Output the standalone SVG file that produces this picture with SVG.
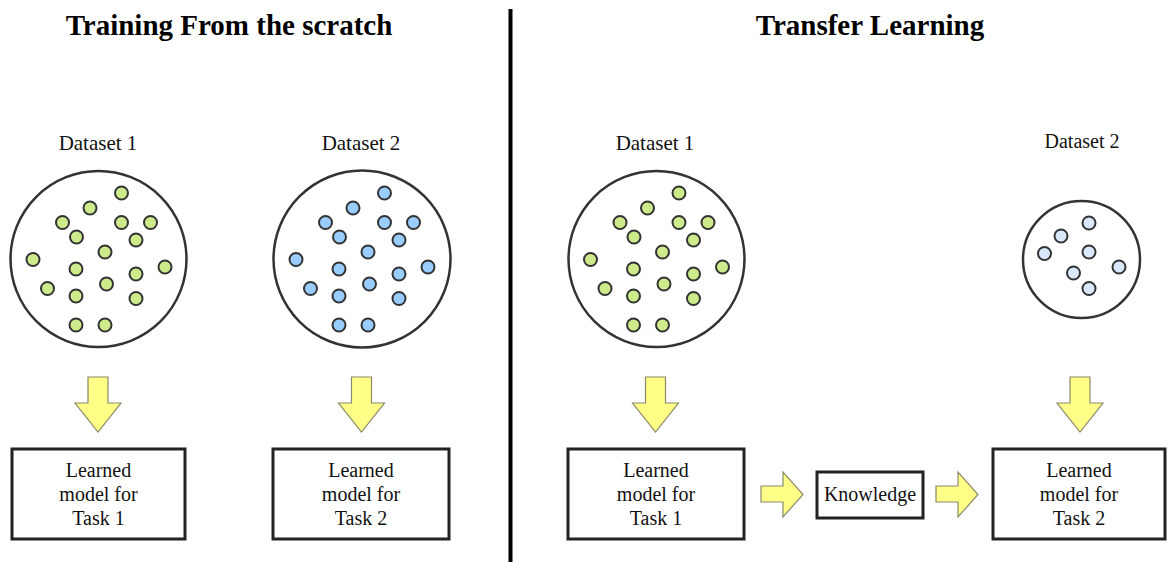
<svg xmlns="http://www.w3.org/2000/svg" xmlns:xlink="http://www.w3.org/1999/xlink" width="1167" height="562" viewBox="0 0 1167 562">
<style>
.title{font-family:"Liberation Serif","Times New Roman",Times,serif;font-weight:bold;font-size:29px;fill:#000;text-anchor:middle}
.lbl{font-family:"Liberation Serif","Times New Roman",Times,"DejaVu Serif",serif;font-weight:normal;font-size:20px;fill:#111;text-anchor:middle}
.ds{font-size:21px}
.big{fill:#fff;stroke:#333;stroke-width:2.5}
.dot{stroke:#333;stroke-width:2}
.box{fill:#fff;stroke:#222;stroke-width:3}
.arrow{fill:#ffff88;stroke:#8a8a6a;stroke-width:1.2;stroke-linejoin:miter}
</style>
<defs>
<g id="dots">
<circle class="dot" cx="121.5" cy="193" r="6.5"/>
<circle class="dot" cx="90" cy="208" r="6.5"/>
<circle class="dot" cx="62.5" cy="222.5" r="6.5"/>
<circle class="dot" cx="121.5" cy="222.5" r="6.5"/>
<circle class="dot" cx="150.5" cy="222.5" r="6.5"/>
<circle class="dot" cx="76.5" cy="237" r="6.5"/>
<circle class="dot" cx="136" cy="240" r="6.5"/>
<circle class="dot" cx="105" cy="252" r="6.5"/>
<circle class="dot" cx="33" cy="259.5" r="6.5"/>
<circle class="dot" cx="76" cy="269" r="6.5"/>
<circle class="dot" cx="165" cy="267" r="6.5"/>
<circle class="dot" cx="136" cy="274" r="6.5"/>
<circle class="dot" cx="106.5" cy="284" r="6.5"/>
<circle class="dot" cx="47.5" cy="288.5" r="6.5"/>
<circle class="dot" cx="76" cy="296" r="6.5"/>
<circle class="dot" cx="136" cy="298.5" r="6.5"/>
<circle class="dot" cx="76" cy="325" r="6.5"/>
<circle class="dot" cx="105" cy="325" r="6.5"/>
</g>
</defs>
<rect width="1167" height="562" fill="#fff"/>

<g id="titles">
<text class="title" x="229" y="35">Training From the scratch</text>
<text class="title" x="870" y="35">Transfer Learning</text>
</g>
<g id="divider">
<line x1="510.5" y1="9" x2="510.5" y2="562" stroke="#000" stroke-width="4"/>
</g>

<g id="dataset1-left">
<text class="lbl ds" x="98" y="150">Dataset 1</text>
<circle class="big" cx="98.5" cy="259" r="88"/>
<use xlink:href="#dots" href="#dots" fill="#cdeb8b"/>
</g>
<g id="dataset2-left">
<text class="lbl ds" x="361" y="150">Dataset 2</text>
<circle class="big" cx="362" cy="259" r="88.5"/>
<use xlink:href="#dots" href="#dots" x="263" fill="#99ccff"/>
</g>
<g id="dataset1-right">
<text class="lbl ds" x="655" y="150">Dataset 1</text>
<circle class="big" cx="656.5" cy="259" r="88"/>
<use xlink:href="#dots" href="#dots" x="557.5" fill="#cdeb8b"/>
</g>
<g id="dataset2-right">
<text class="lbl" x="1082" y="148">Dataset 2</text>
<circle class="big" cx="1081.5" cy="259.5" r="58.5"/>
<circle class="dot" cx="1089" cy="223" r="6.5" fill="#dae8fc"/>
<circle class="dot" cx="1061" cy="236" r="6.5" fill="#dae8fc"/>
<circle class="dot" cx="1044.5" cy="253.5" r="6.5" fill="#dae8fc"/>
<circle class="dot" cx="1089" cy="252" r="6.5" fill="#dae8fc"/>
<circle class="dot" cx="1119" cy="267" r="6.5" fill="#dae8fc"/>
<circle class="dot" cx="1073.5" cy="273" r="6.5" fill="#dae8fc"/>
<circle class="dot" cx="1089" cy="288.5" r="6.5" fill="#dae8fc"/>
</g>

<g id="model1-left">
<rect class="box" x="12" y="449" width="173" height="90"/>
<text class="lbl" x="98.5" y="477">Learned</text>
<text class="lbl" x="98.5" y="501">model for</text>
<text class="lbl" x="98.5" y="525">Task 1</text>
</g>
<g id="model2-left">
<rect class="box" x="273" y="449" width="176" height="90"/>
<text class="lbl" x="361" y="477">Learned</text>
<text class="lbl" x="361" y="501">model for</text>
<text class="lbl" x="361" y="525">Task 2</text>
</g>
<g id="model1-right">
<rect class="box" x="568" y="449" width="176" height="90"/>
<text class="lbl" x="656" y="477">Learned</text>
<text class="lbl" x="656" y="501">model for</text>
<text class="lbl" x="656" y="525">Task 1</text>
</g>
<g id="knowledge">
<rect class="box" x="817" y="472" width="106" height="46"/>
<text class="lbl" x="870" y="501">Knowledge</text>
</g>
<g id="model2-right">
<rect class="box" x="993" y="449" width="172" height="90"/>
<text class="lbl" x="1079" y="477">Learned</text>
<text class="lbl" x="1079" y="501">model for</text>
<text class="lbl" x="1079" y="525">Task 2</text>
</g>

<g id="connectors">
<path class="arrow" d="M88,377 H108 V403 H121 L98,432 L75,403 H88 Z"/>
<path class="arrow" d="M351.5,377 H371.5 V403 H384.5 L361.5,432 L338.5,403 H351.5 Z"/>
<path class="arrow" d="M645.5,377 H665.5 V403 H678.5 L655.5,432 L632.5,403 H645.5 Z"/>
<path class="arrow" d="M1070,377 H1090 V403 H1103 L1080,432 L1057,403 H1070 Z"/>
<path class="arrow" d="M761,486 H783 V472 L803,494.5 L783,517 V502 H761 Z"/>
<path class="arrow" d="M936,486 H958 V472 L978,494.5 L958,517 V502 H936 Z"/>
</g>
</svg>
